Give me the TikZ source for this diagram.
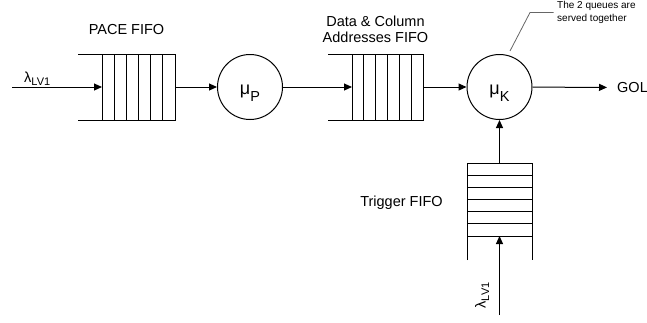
\documentclass[tikz,border=0pt]{standalone}
\usepackage{fontspec}
\setmainfont{Liberation Sans}
\usetikzlibrary{arrows.meta}

\tikzset{
  flow/.style={line width=1pt, -{Triangle[length=8pt,width=7pt]}},
  wall/.style={line width=1pt},
  server/.style={circle, draw, line width=1pt, minimum size=65pt, inner sep=0pt},
  lbl/.style={inner sep=0pt, font=\fontsize{14.5}{16}\selectfont},
  rate/.style={inner sep=0pt, font=\fontsize{18}{20}\selectfont, anchor=base},
  note/.style={inner sep=0pt, font=\fontsize{10}{13}\selectfont, align=left, anchor=base west},
  leader/.style={line width=0.8pt, draw=black!60},
}

\begin{document}
\begin{tikzpicture}[x=1pt,y=-1pt]
\useasboundingbox (0,0) rectangle (647,322);

% ---- PACE FIFO (open to the left)
\draw[wall] (78,54) -- (175,54) -- (175,120) -- (78,120);
\foreach \x in {102,114.2,126.3,138.5,150.7,162.8}
  \draw[wall] (\x,54) -- (\x,120);
\coordinate (pin)  at (102,87);
\coordinate (pout) at (175,87);
\node[lbl, anchor=base] (pacelbl) at (126.5,34) {PACE FIFO};

% ---- data & column addresses FIFO
\draw[wall] (328,54) -- (423,54) -- (423,120) -- (328,120);
\foreach \x in {352,363.8,375.7,387.5,399.3,411.2}
  \draw[wall] (\x,54) -- (\x,120);
\coordinate (din)  at (352,87);
\coordinate (dout) at (423,87);
\node[lbl, align=center, anchor=base] (datalbl) at (375.5,42.5)
  {Data \& Column\\Addresses FIFO};

% ---- trigger FIFO (vertical, open at the bottom)
\draw[wall] (467,260) -- (467,163) -- (532,163) -- (532,260);
\foreach \y in {175.2,187.3,199.5,211.7,223.8,236}
  \draw[wall] (467,\y) -- (532,\y);
\coordinate (tin)  at (499.5,236);
\coordinate (tout) at (499.5,163);
\node[lbl, anchor=base] (triglbl) at (401.5,206) {Trigger FIFO};

% ---- servers
\node[server] (mp) at (250,87) {};
\node[server] (mk) at (499.5,87) {};
\node[rate] (mptxt) at (250,94) {μ{\fontsize{14.5}{14.5}\selectfont\raisebox{-7.5pt}{P}}};
\node[rate] (mktxt) at (499.5,94) {μ{\fontsize{14.5}{14.5}\selectfont\raisebox{-7.5pt}{K}}};

% ---- arrivals
\coordinate (src1) at (12,87);
\coordinate (src2) at (499.5,315);
\node[lbl, anchor=base west] (lam1) at (24,82)
  {λ{\fontsize{11}{11}\selectfont\raisebox{-3.5pt}{LV1}}};
\node[lbl, anchor=base west, rotate=90] (lam2) at (485.5,308.5)
  {λ{\fontsize{11}{11}\selectfont\raisebox{-3.5pt}{LV1}}};

% ---- output
\node[lbl, anchor=west, inner xsep=10pt] (gol) at (607,87.5) {GOL};

% ---- flow
\draw[flow] (src1) -- (pin);
\draw[flow] (pout) -- (mp);
\draw[flow] (mp) -- (din);
\draw[flow] (dout) -- (mk);
\draw[flow] (mk) -- (gol);
\draw[flow] (src2) -- (tin);
\draw[flow] (tout) -- (mk);

% ---- annotation
\node[note] (note) at (557,21) {The 2 queues are\\served together};
\coordinate (leadA) at (510,51);
\coordinate (leadB) at (530,12.5);
\coordinate (leadC) at (553.5,12.5);
\draw[leader] (leadA) -- (leadB) -- (leadC);
\end{tikzpicture}
\end{document}
